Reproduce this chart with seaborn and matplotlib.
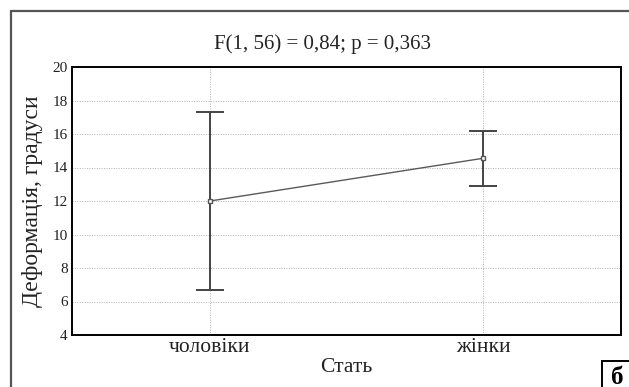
import numpy as np
import pandas as pd
import matplotlib
matplotlib.use("Agg")
import matplotlib.pyplot as plt
import matplotlib.patches as mpatches
import seaborn as sns

# ── data ─────────────────────────────────────────────────────────────────
groups = ["чоловіки", "жінки"]
means = [12.0, 14.55]
ci_low = [6.7, 12.9]
ci_high = [17.3, 16.2]

title = "F(1, 56) = 0,84; p = 0,363"
x_label = "Стать"
y_label = "Деформація, градуси"
y_ticks = [4, 6, 8, 10, 12, 14, 16, 18, 20]

sns.set_theme(style="white")
plt.rcParams["font.family"] = ["Liberation Serif", "DejaVu Serif"]

W, H = 629, 387
df = pd.DataFrame({"group": groups, "mean": means})
err = np.array([np.subtract(means, ci_low), np.subtract(ci_high, means)])

fig = plt.figure(figsize=(W / 100, H / 100), dpi=100)
ax = fig.add_axes([72 / W, 1 - 335 / H, 549 / W, 268 / H])

ax.errorbar(range(len(groups)), means, yerr=err, fmt="none",
            ecolor="#444444", elinewidth=1.4, capsize=10, capthick=1.4, zorder=3)
sns.pointplot(data=df, x="group", y="mean", ax=ax, errorbar=None,
              color="#5a5a5a", linewidth=1.0, markers="s", markersize=3.5,
              markerfacecolor="white", markeredgecolor="#555555",
              markeredgewidth=1.0, zorder=4)

# dotted grid on both axes (pointplot switches the categorical one off)
ax.grid(True, axis="both", color="#b0b0b0", linestyle=(0, (1, 1.5)), linewidth=0.7)
ax.set_axisbelow(True)

ax.set_xlim(-0.505, 1.505)
ax.set_ylim(4, 20)
ax.set_yticks(y_ticks)
ax.set_yticklabels([str(t) for t in y_ticks], fontsize=11)
ax.set_xticks(range(len(groups)))
ax.set_xticklabels(groups, fontsize=15.5)
ax.tick_params(axis="y", length=0, pad=3, colors="#222222")
ax.tick_params(axis="x", length=0, pad=2, colors="#222222")
ax.set_xlabel(x_label, fontsize=15.5, labelpad=1, color="#222222")
ax.set_ylabel(y_label, fontsize=17, labelpad=7, color="#222222")
for s in ax.spines.values():
    s.set_color("black")
    s.set_linewidth(1.4)

fig.text(323 / W, 1 - 44 / H, title, ha="center", va="center",
         fontsize=15, color="#222222")

# outer frame and panel letter box
fig.patches.append(mpatches.Rectangle((10.5 / W, -0.1), 1.2, 1.1 - 11 / H,
                                      transform=fig.transFigure, fill=False,
                                      edgecolor="#555555", linewidth=1.6))
fig.patches.append(mpatches.Rectangle((602 / W, -0.1), 0.2, 0.1 + 26 / H,
                                      transform=fig.transFigure, fill=False,
                                      edgecolor="black", linewidth=1.4))
fig.text(617 / W, 1 - 377 / H, "б", ha="center", va="center",
         fontsize=18, fontweight="bold", color="black")

fig.savefig("out.png", dpi=100)
